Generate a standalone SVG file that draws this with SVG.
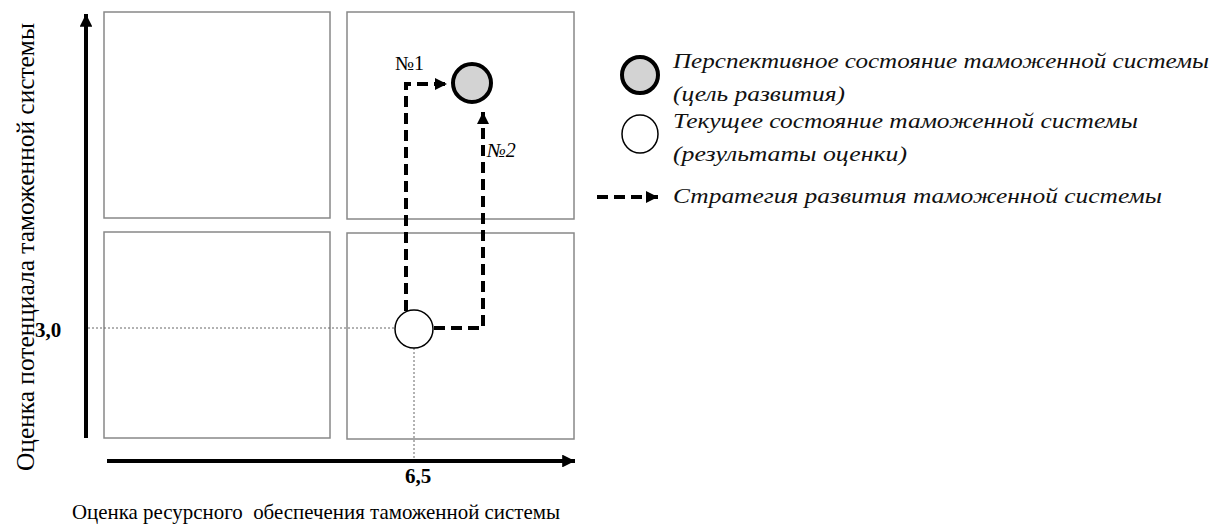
<svg xmlns="http://www.w3.org/2000/svg" width="1221" height="525" viewBox="0 0 1221 525">
<style>
.box{fill:#fff;stroke:#888;stroke-width:1.5}
.axis{stroke:#000;stroke-width:4;fill:none}
.dash{stroke:#000;stroke-width:4;fill:none;stroke-dasharray:11 6}
.dot{stroke:#666;stroke-width:1;stroke-dasharray:2 2;fill:none}
text{font-family:"Liberation Serif","Times New Roman",serif;fill:#000}
.it{font-style:italic;fill:#111;font-size:21px}
.b{font-weight:bold;font-size:21px}
</style>
<defs>
<marker id="ah" viewBox="0 0 10 10" refX="10" refY="5" markerWidth="3.2" markerHeight="3.2" orient="auto" markerUnits="strokeWidth">
<path d="M0,0 L10,5 L0,10 z" fill="#000"/>
</marker>
<marker id="ahs" viewBox="0 0 10 10" refX="10" refY="5" markerWidth="3" markerHeight="3" orient="auto" markerUnits="strokeWidth">
<path d="M0,0 L10,5 L0,10 z" fill="#000"/>
</marker>
</defs>
<rect width="1221" height="525" fill="#fff"/>
<g id="quadrants">
<rect id="q-tl" class="box" x="104" y="12" width="226" height="206"/>
<rect id="q-tr" class="box" x="347" y="12" width="227" height="207"/>
<rect id="q-bl" class="box" x="104" y="232" width="226" height="206"/>
<rect id="q-br" class="box" x="347" y="233" width="227" height="206"/>
</g>
<g id="axes">
<line class="axis" x1="86" y1="438" x2="86" y2="14" marker-end="url(#ah)"/>
<line class="axis" x1="107" y1="461" x2="575" y2="461" marker-end="url(#ah)"/>
<text font-size="26" transform="translate(34,471) rotate(-90)" textLength="448" lengthAdjust="spacingAndGlyphs">Оценка потенциала таможенной системы</text>
<text font-size="22" x="72" y="519" textLength="488" lengthAdjust="spacingAndGlyphs" xml:space="preserve">Оценка ресурсного  обеспечения таможенной системы</text>
<text class="b" x="35" y="337">3,0</text>
<text class="b" x="405" y="483">6,5</text>
</g>
<g id="guides">
<line class="dot" x1="88" y1="328" x2="395" y2="328"/>
<line class="dot" x1="414" y1="348" x2="414" y2="459"/>
</g>
<g id="connectors">
<path class="dash" d="M406,311 V84 H447" marker-end="url(#ahs)"/>
<path class="dash" d="M434,328 H483 V112" marker-end="url(#ahs)"/>
<text font-size="20" x="395" y="70">№1</text>
<text font-size="20" font-style="italic" x="487" y="157">№2</text>
</g>
<g id="node-target">
<circle cx="472" cy="83" r="19" fill="#d3d3d3" stroke="#000" stroke-width="4"/>
</g>
<g id="node-current">
<circle cx="414" cy="329" r="19" fill="#fff" stroke="#000" stroke-width="1.5"/>
</g>
<g id="legend">
<circle cx="640" cy="75" r="18" fill="#d3d3d3" stroke="#000" stroke-width="4"/>
<ellipse cx="640" cy="134" rx="18" ry="19" fill="#fff" stroke="#000" stroke-width="1.5"/>
<line class="dash" x1="597" y1="197" x2="658" y2="197" marker-end="url(#ahs)"/>
<text class="it" x="673" y="68" textLength="536" lengthAdjust="spacingAndGlyphs">Перспективное состояние таможенной системы</text>
<text class="it" x="673" y="101" textLength="172" lengthAdjust="spacingAndGlyphs">(цель развития)</text>
<text class="it" x="673" y="128" textLength="465" lengthAdjust="spacingAndGlyphs">Текущее состояние таможенной системы</text>
<text class="it" x="673" y="161" textLength="234" lengthAdjust="spacingAndGlyphs">(результаты оценки)</text>
<text class="it" x="673" y="203" textLength="489" lengthAdjust="spacingAndGlyphs">Стратегия развития таможенной системы</text>
</g>
</svg>
